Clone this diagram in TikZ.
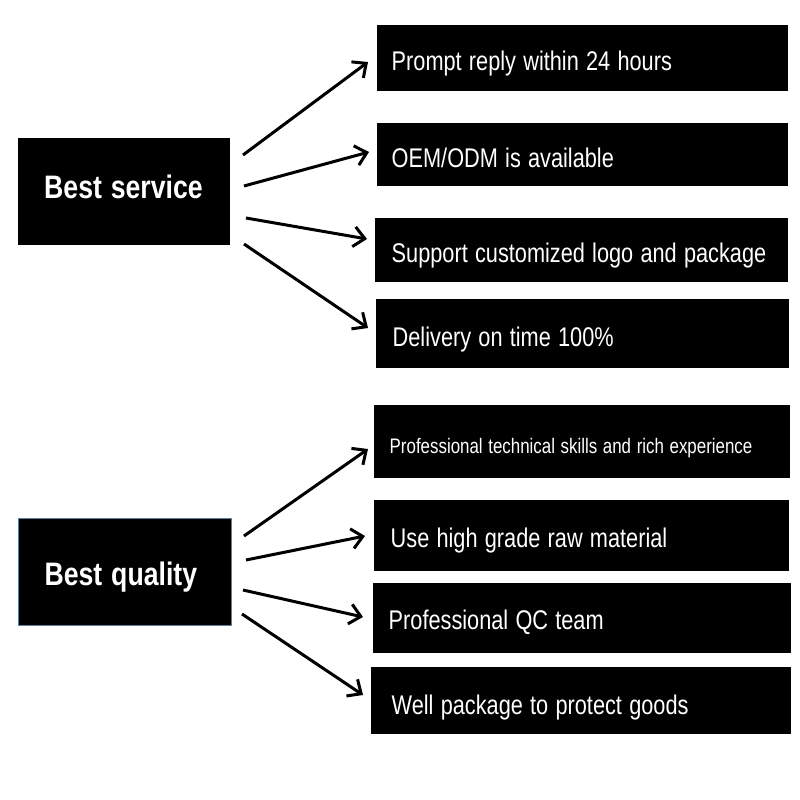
\documentclass[tikz,border=0pt]{standalone}
\usepackage{fontspec}
\setmainfont{Liberation Sans}
\usetikzlibrary{arrows.meta}
\newcommand\nrw[1]{\scalebox{0.805}[1]{#1}}
\newcommand\nrb[1]{\scalebox{0.82}[1]{#1}}
\definecolor{qborder}{RGB}{95,125,165}
\tikzset{
  rbox/.style n args={5}{fill=black, text=white, anchor=north west,
    inner ysep=0pt, inner xsep=#3pt, minimum width=#1pt, minimum height=#2pt,
    text width=#5pt, text height=#4pt, text depth=0pt, align=left,
    font=\fontsize{27}{27}\selectfont},
  lbox/.style n args={4}{fill=black, text=white, anchor=north west,
    inner ysep=0pt, inner xsep=25pt, minimum width=#1pt, minimum height=#2pt,
    text width=#4pt, text height=#3pt, text depth=0pt, align=left,
    font=\fontsize{32.5}{32.5}\selectfont\bfseries},
  arr/.style={line width=3pt, -{Straight Barb[length=11pt,width=20pt]}},
}
\begin{document}
\begin{tikzpicture}[x=1pt,y=-1pt]
\useasboundingbox (0,0) rectangle (800,800);
\fill[white] (0,0) rectangle (800,800);
% left boxes
\node[lbox={212}{107}{13}{160}] (svc) at (18,138) {\nrb{Best service}};
\node[lbox={213}{107}{27}{161}, draw=qborder, line width=1.2pt] (qly) at (18,518) {\nrb{Best quality}};
% right boxes (service)
\node[rbox={411}{66}{14}{24}{382}] (r1) at (377,25) {\nrw{Prompt reply within 24 hours}};
\node[rbox={411}{63}{14}{25}{382}] (r2) at (377,123) {\nrw{OEM/ODM is available}};
\node[rbox={413}{64}{16}{24}{380}] (r3) at (375,218) {\nrw{Support customized logo and package}};
\node[rbox={413}{69}{16}{26.4}{380}] (r4) at (376,299) {\nrw{Delivery on time 100\%}};
% right boxes (quality)
\node[rbox={416}{73}{15}{23}{385}, font=\fontsize{21}{21}\selectfont] (q1) at (374,405) {\nrw{Professional technical skills and rich experience}};
\node[rbox={415}{71}{16}{23}{382}] (q2) at (374,500) {\nrw{Use high grade raw material}};
\node[rbox={418}{70}{15}{22}{387}] (q3) at (373,583) {\nrw{Professional QC team}};
\node[rbox={420}{67}{20}{27}{379}] (q4) at (371,667) {\nrw{Well package to protect goods}};
% arrow end points
\coordinate (a1s) at (243,155); \coordinate (a1e) at (368,62);
\coordinate (a2s) at (244,186); \coordinate (a2e) at (369,152);
\coordinate (a3s) at (246,218); \coordinate (a3e) at (367,239);
\coordinate (a4s) at (244,244); \coordinate (a4e) at (368,328);
\coordinate (b1s) at (244,536); \coordinate (b1e) at (368,449);
\coordinate (b2s) at (246,560); \coordinate (b2e) at (365,536);
\coordinate (b3s) at (243,590); \coordinate (b3e) at (363,617);
\coordinate (b4s) at (242,614); \coordinate (b4e) at (363,695);
\draw[arr] (a1s) -- (a1e);
\draw[arr] (a2s) -- (a2e);
\draw[arr] (a3s) -- (a3e);
\draw[arr] (a4s) -- (a4e);
\draw[arr] (b1s) -- (b1e);
\draw[arr] (b2s) -- (b2e);
\draw[arr] (b3s) -- (b3e);
\draw[arr] (b4s) -- (b4e);
\end{tikzpicture}
\end{document}
